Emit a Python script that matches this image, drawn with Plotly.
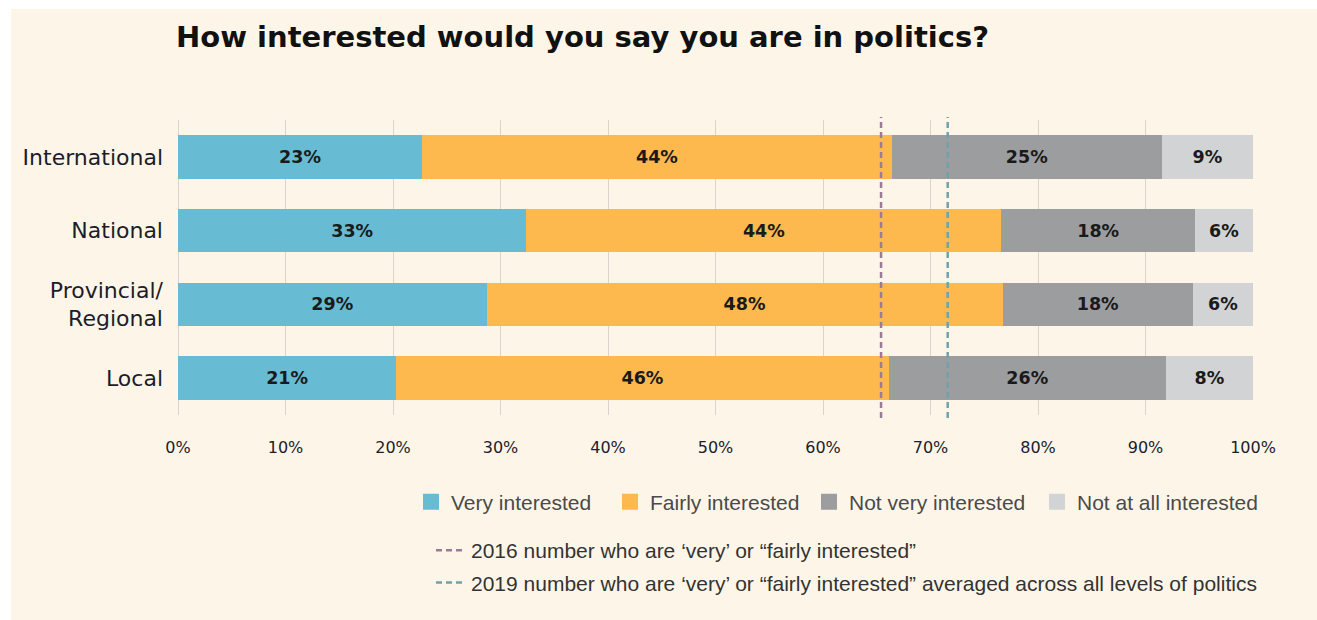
import plotly.graph_objects as go

categories = ["International", "National", "Provincial/<br>Regional", "Local"]
series_names = ["Very interested", "Fairly interested", "Not very interested", "Not at all interested"]
very = [22.7, 32.4, 28.7, 20.3]
fairly = [43.7, 44.2, 48.0, 45.8]
not_very = [25.1, 18.0, 17.7, 25.8]
not_at_all = [8.5, 5.4, 5.6, 8.1]
very_lbl = ["23%", "33%", "29%", "21%"]
fairly_lbl = ["44%", "44%", "48%", "46%"]
not_very_lbl = ["25%", "18%", "18%", "26%"]
not_at_all_lbl = ["9%", "6%", "6%", "8%"]
line_2016 = 65.4
line_2019 = 71.6
line_names = ["2016 number who are \u2018very\u2019 or \u201cfairly interested\u201d",
              "2019 number who are \u2018very\u2019 or \u201cfairly interested\u201d averaged across all levels of politics"]
x_ticks = [0, 10, 20, 30, 40, 50, 60, 70, 80, 90, 100]
x_tick_text = ["0%", "10%", "20%", "30%", "40%", "50%", "60%", "70%", "80%", "90%", "100%"]

colors = ["#67BCD4", "#FDB94E", "#9C9D9F", "#D1D3D5"]
cream = "#FDF6E8"

L, R, T, B = 178, 64, 120, 205
PW = 1317 - L - R
PH = 620 - T - B


def px_x(px):
    return (px - L) / PW


def px_y(py):
    return (620 - B - py) / PH


legend_ids = ["legend", "legend3", "legend4", "legend5"]
legend_px = [411, 610, 809, 1037]

fig = go.Figure()
for name, vals, lbls, col, lid in zip(series_names,
                                      [very, fairly, not_very, not_at_all],
                                      [very_lbl, fairly_lbl, not_very_lbl, not_at_all_lbl],
                                      colors, legend_ids):
    fig.add_trace(go.Bar(
        y=categories, x=vals, orientation="h", name=name,
        marker=dict(color=col, line=dict(width=0)),
        text=lbls, textposition="inside", insidetextanchor="middle", textangle=0,
        textfont=dict(family="DejaVu Sans", size=17.5, color="#1a1a1a", weight=700),
        showlegend=False, hoverinfo="skip",
    ))
    # legend proxy
    fig.add_trace(go.Scatter(
        x=[None], y=[None], mode="markers", name=name,
        marker=dict(symbol="square", size=16, color=col),
        showlegend=True, legend=lid,
    ))

for val, col, nm, grp in [(line_2016, "#9B7B98", line_names[0], "a"),
                          (line_2019, "#6FA3AC", line_names[1], "b")]:
    fig.add_shape(type="line", xref="x", yref="paper", x0=val, x1=val, y0=-0.01, y1=1.01,
                  line=dict(color=col, width=2.5, dash="6px,4px"),
                  layer="above", showlegend=True, name=nm, legend="legend2",
                  legendgroup=grp)

# cream panel with thin white border at top/left
fig.add_shape(type="rect", xref="paper", yref="paper",
              x0=px_x(11), x1=px_x(1330), y0=px_y(640), y1=px_y(9),
              fillcolor=cream, line=dict(width=0), layer="below")

leg_common = dict(orientation="h", xanchor="left", yanchor="middle",
                  font=dict(family="Liberation Sans", size=21, color="#4a4a4a"),
                  bgcolor="rgba(0,0,0,0)", itemsizing="trace")

layout_legends = {}
for lid, lx in zip(legend_ids, legend_px):
    layout_legends[lid] = dict(x=px_x(lx), y=px_y(502), **leg_common)

fig.update_layout(
    width=1317, height=620,
    margin=dict(l=L, r=R, t=T, b=B),
    paper_bgcolor="white", plot_bgcolor="rgba(0,0,0,0)",
    barmode="stack", bargap=0.41,
    title=dict(text="<b>How interested would you say you are in politics?</b>",
               x=176 / 1317, xref="container", xanchor="left",
               y=1 - 37 / 620, yref="container", yanchor="middle",
               font=dict(family="DejaVu Sans", size=29, color="#111111")),
    xaxis=dict(range=[0, 100], tickmode="array", tickvals=x_ticks, ticktext=x_tick_text,
               showgrid=True, gridcolor="#D9D5CC", gridwidth=1,
               zeroline=True, zerolinecolor="#D9D5CC", zerolinewidth=1,
               showline=False, ticks="", ticklabelstandoff=21,
               tickfont=dict(family="DejaVu Sans", size=16, color="#1c1c2c"),
               fixedrange=True),
    yaxis=dict(autorange="reversed", showgrid=False, zeroline=False, ticks="",
               ticklabelstandoff=14,
               tickfont=dict(family="DejaVu Sans", size=22, color="#1c1c2c"),
               fixedrange=True),
    legend2=dict(orientation="v", x=px_x(431), xanchor="left", y=px_y(530), yanchor="top",
                 font=dict(family="Liberation Sans", size=21, color="#333333"),
                 bgcolor="rgba(0,0,0,0)", tracegroupgap=2),
    **layout_legends,
)

fig.write_html("out.html")
